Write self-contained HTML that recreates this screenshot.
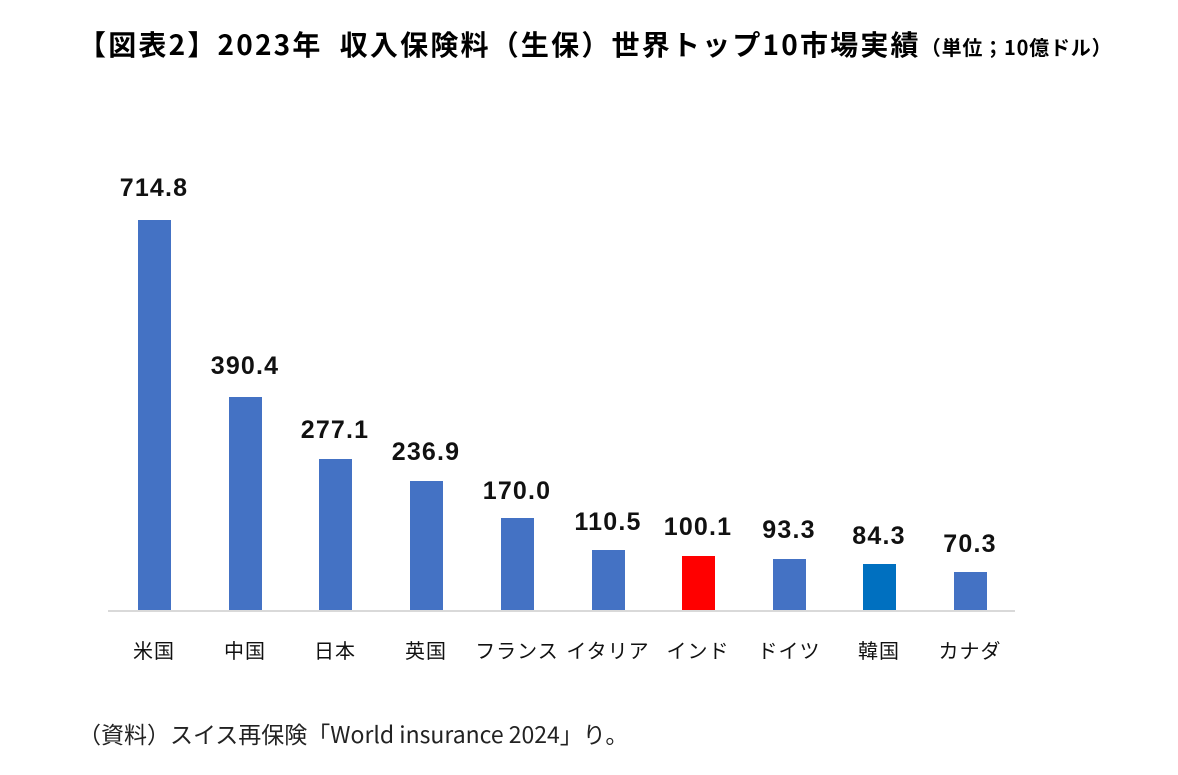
<!DOCTYPE html>
<html><head><meta charset="utf-8"><style>
body{margin:0;width:1178px;height:775px;background:#fff;position:relative;font-family:"Liberation Sans","Noto Sans CJK JP",sans-serif;overflow:hidden}
.t{position:absolute;left:78px;top:24px;font-size:28px;font-weight:bold;white-space:nowrap;color:#000;font-family:"Noto Sans CJK JP",sans-serif;letter-spacing:2.2px;line-height:40px}
.t small{font-size:20px;letter-spacing:0.8px}
.b{position:absolute;width:33px;background:#4472C4}
.v{position:absolute;width:140px;text-align:center;font-size:25px;font-weight:bold;color:#111;letter-spacing:1.2px}
.l{position:absolute;width:120px;text-align:center;font-size:20px;top:635px;color:#111;font-family:"Noto Sans CJK JP",sans-serif;letter-spacing:1px}
.ax{position:absolute;left:108px;top:610px;width:907px;height:2px;background:#d9d9d9}
.s{position:absolute;left:78px;top:716px;font-size:23px;color:#222;font-family:"Noto Sans CJK JP",sans-serif;white-space:nowrap}
</style></head><body>
<div class="t">【図表2】2023年&nbsp;&nbsp;収入保険料（生保）世界トップ10市場実績<small>（単位；10億ドル）</small></div>
<div class="ax"></div>
<div class="b" style="left:138px;top:220px;height:390px"></div>
<div class="b" style="left:229px;top:397px;height:213px"></div>
<div class="b" style="left:319px;top:459px;height:151px"></div>
<div class="b" style="left:410px;top:481px;height:129px"></div>
<div class="b" style="left:501px;top:518px;height:92px"></div>
<div class="b" style="left:592px;top:550px;height:60px"></div>
<div class="b" style="left:682px;top:556px;height:54px;background:#FF0000"></div>
<div class="b" style="left:773px;top:559px;height:51px"></div>
<div class="b" style="left:863px;top:564px;height:46px;background:#0070C0"></div>
<div class="b" style="left:954px;top:572px;height:38px"></div>
<div class="v" style="left:84px;top:174px">714.8</div>
<div class="v" style="left:175px;top:352px">390.4</div>
<div class="v" style="left:265px;top:416px">277.1</div>
<div class="v" style="left:356px;top:438px">236.9</div>
<div class="v" style="left:447px;top:477px">170.0</div>
<div class="v" style="left:538px;top:508px">110.5</div>
<div class="v" style="left:628px;top:513px">100.1</div>
<div class="v" style="left:719px;top:516px">93.3</div>
<div class="v" style="left:809px;top:522px">84.3</div>
<div class="v" style="left:900px;top:530px">70.3</div>
<div class="l" style="left:94px">米国</div>
<div class="l" style="left:185px">中国</div>
<div class="l" style="left:275px">日本</div>
<div class="l" style="left:366px">英国</div>
<div class="l" style="left:457px">フランス</div>
<div class="l" style="left:548px">イタリア</div>
<div class="l" style="left:638px">インド</div>
<div class="l" style="left:729px">ドイツ</div>
<div class="l" style="left:819px">韓国</div>
<div class="l" style="left:910px">カナダ</div>
<div class="s">（資料）スイス再保険「World insurance 2024」り。</div>
</body></html>
